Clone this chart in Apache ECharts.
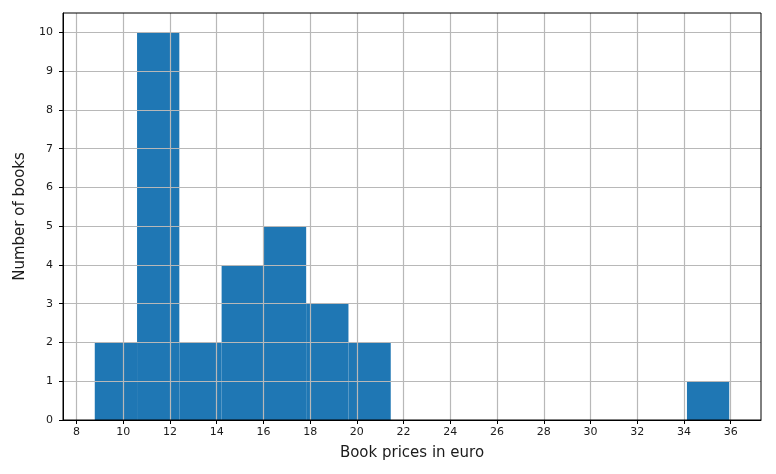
<!DOCTYPE html>
<html>
<head>
<meta charset="utf-8">
<script src="https://cdn.jsdelivr.net/npm/echarts@6/dist/echarts.min.js"></script>
<style>html,body{margin:0;padding:0;background:#fff}#c{width:776px;height:474px}</style>
</head>
<body>
<div id="c"></div>
<script>
var binEdges = [8.78, 10.59, 12.40, 14.21, 16.02, 17.83, 19.64, 21.45, 23.27, 25.08, 26.89, 28.70, 30.51, 32.32, 34.13, 35.94];
var counts = [2, 10, 2, 4, 5, 3, 2, 0, 0, 0, 0, 0, 0, 0, 1];
var xTicks = [8, 10, 12, 14, 16, 18, 20, 22, 24, 26, 28, 30, 32, 34, 36];
var yTicks = [0, 1, 2, 3, 4, 5, 6, 7, 8, 9, 10];

var data = counts.map(function (c, i) { return [binEdges[i], binEdges[i + 1], c]; });

var chart = echarts.init(document.getElementById('c'), null, {renderer: 'canvas'});
var font = 'DejaVu Sans';
var txt = '#1a1a1a';
var gridLine = {show: true, lineStyle: {color: '#b8b8b8', width: 1.2}};
chart.setOption({
  animation: false,
  grid: {left: 63, right: 15, top: 13, bottom: 54, show: true, borderColor: '#000', borderWidth: 1, z: 10},
  xAxis: {
    type: 'value', min: 7.42, max: 37.3, interval: 2,
    z: 5,
    name: 'Book prices in euro', nameLocation: 'middle', nameGap: 26,
    nameTextStyle: {fontFamily: font, fontSize: 15, color: txt},
    axisLine: {show: true, onZero: false, lineStyle: {color: '#000', width: 1}},
    axisTick: {show: true, length: 4, lineStyle: {color: '#000'}, customValues: xTicks},
    axisLabel: {fontFamily: font, fontSize: 11, color: txt, margin: 7, customValues: xTicks},
    splitLine: Object.assign({customValues: xTicks}, gridLine)
  },
  yAxis: {
    type: 'value', min: 0, max: 10.5, interval: 1,
    z: 5,
    name: 'Number of books', nameLocation: 'middle', nameGap: 33, nameRotate: 90,
    nameTextStyle: {fontFamily: font, fontSize: 15, color: txt},
    axisLine: {show: true, lineStyle: {color: '#000', width: 1}},
    axisTick: {show: true, length: 4, lineStyle: {color: '#000'}, customValues: yTicks},
    axisLabel: {fontFamily: font, fontSize: 11, color: txt, margin: 10, customValues: yTicks},
    splitLine: Object.assign({customValues: yTicks}, gridLine)
  },
  series: [{
    type: 'custom',
    z: 1,
    data: data,
    encode: {x: [0, 1], y: 2},
    renderItem: function (params, api) {
      if (api.value(2) <= 0) return null;
      var p0 = api.coord([api.value(0), api.value(2)]);
      var p1 = api.coord([api.value(1), 0]);
      return {
        type: 'rect',
        shape: {x: p0[0], y: p0[1], width: p1[0] - p0[0], height: p1[1] - p0[1]},
        style: {fill: '#1f77b4'}
      };
    }
  }]
});
</script>
</body>
</html>
